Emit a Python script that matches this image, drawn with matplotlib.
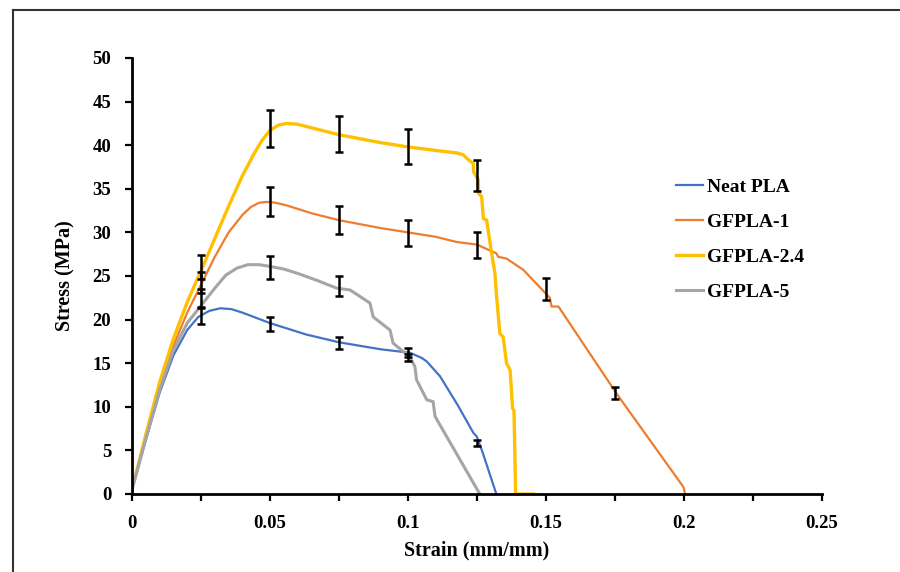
import numpy as np
import matplotlib.pyplot as plt
from matplotlib.lines import Line2D
from matplotlib.ticker import MultipleLocator

# stress-strain curves
neat_strain = [0, 0.005, 0.01, 0.015, 0.02, 0.024, 0.028, 0.032, 0.036, 0.04, 0.045, 0.05,
               0.056, 0.063, 0.075, 0.09, 0.1007, 0.105, 0.1068, 0.1116, 0.118, 0.1237,
               0.1249, 0.127, 0.132]
neat_stress = [0.5, 6.2, 11.6, 15.9, 18.8, 20.3, 21.0, 21.3, 21.2, 20.8, 20.2, 19.6,
               19.0, 18.3, 17.4, 16.6, 16.2, 15.6, 15.2, 13.5, 10.2, 7.0,
               6.6, 4.8, 0]

gf1_strain = [0, 0.005, 0.01, 0.015, 0.02, 0.025, 0.03, 0.035, 0.04, 0.043, 0.046, 0.049,
              0.052, 0.056, 0.06, 0.065, 0.075, 0.09, 0.1, 0.11, 0.1176, 0.125, 0.132,
              0.1327, 0.1357, 0.1418, 0.1514, 0.152, 0.1545, 0.1756, 0.1998, 0.2004]
gf1_stress = [0.5, 6.5, 12.2, 17.0, 20.8, 24.0, 27.2, 30.0, 32.0, 32.9, 33.4, 33.5,
              33.4, 33.1, 32.7, 32.2, 31.4, 30.5, 30.0, 29.5, 28.9, 28.6, 27.6,
              27.2, 27.0, 25.7, 22.5, 21.5, 21.5, 11.5, 0.8, 0]

gf24_strain = [0, 0.005, 0.01, 0.015, 0.02, 0.025, 0.03, 0.035, 0.04, 0.044, 0.047, 0.05,
               0.053, 0.056, 0.06, 0.065, 0.075, 0.09, 0.1, 0.11, 0.118, 0.12, 0.122,
               0.1237, 0.1237, 0.1255, 0.1255, 0.1267, 0.1273, 0.1285, 0.1303, 0.1315,
               0.132, 0.1333, 0.1345, 0.1357, 0.137, 0.1379, 0.1384, 0.139, 0.1454]
gf24_stress = [0.5, 6.8, 12.8, 17.8, 22.0, 25.6, 29.3, 33.0, 36.5, 38.9, 40.5, 41.7,
               42.3, 42.5, 42.4, 42.0, 41.2, 40.3, 39.8, 39.4, 39.1, 38.9, 38.3,
               37.9, 37.0, 36.0, 34.5, 34.1, 31.6, 31.4, 27.6, 25.3,
               23.0, 18.4, 18.0, 15.0, 14.2, 9.8, 9.6, 0, 0]

gf5_strain = [0, 0.005, 0.01, 0.015, 0.02, 0.025, 0.03, 0.034, 0.038, 0.042, 0.046, 0.05,
              0.055, 0.06, 0.067, 0.0742, 0.079, 0.0862, 0.0874, 0.0935, 0.0946, 0.1007,
              0.1025, 0.1031, 0.1068, 0.1091, 0.1098, 0.126]
gf5_stress = [0.5, 6.3, 11.9, 16.5, 19.6, 21.6, 23.6, 25.1, 25.9, 26.3, 26.3, 26.1,
              25.8, 25.3, 24.5, 23.6, 23.4, 21.9, 20.3, 18.8, 17.3, 15.7,
              14.6, 13.1, 10.8, 10.6, 8.9, 0]

# error bars (mean, +/-)
neat_eb_x = [0.025, 0.05, 0.075, 0.1, 0.125]
neat_eb_y = [20.4, 19.5, 17.35, 16.2, 5.8]
neat_eb_e = [0.9, 0.8, 0.7, 0.5, 0.35]

gf1_eb_x = [0.025, 0.05, 0.075, 0.1, 0.125, 0.15, 0.175]
gf1_eb_y = [24.3, 33.5, 31.4, 29.9, 28.6, 23.5, 11.6]
gf1_eb_e = [1.2, 1.65, 1.6, 1.5, 1.5, 1.25, 0.7]

gf24_eb_x = [0.025, 0.05, 0.075, 0.1, 0.125]
gf24_eb_y = [26.0, 41.9, 41.3, 39.9, 36.5]
gf24_eb_e = [1.4, 2.1, 2.1, 2.0, 1.8]

gf5_eb_x = [0.025, 0.05, 0.075, 0.1]
gf5_eb_y = [22.5, 26.0, 23.8, 15.6]
gf5_eb_e = [1.0, 1.3, 1.15, 0.4]

labels = ['Neat PLA', 'GFPLA-1', 'GFPLA-2.4', 'GFPLA-5']
colors = ['#4472C4', '#ED7D31', '#FFC000', '#A5A5A5']
widths = [1.6, 1.6, 2.4, 2.2]

plt.rcParams['font.family'] = ['Liberation Serif', 'DejaVu Serif']
plt.rcParams['font.weight'] = 'bold'

fig = plt.figure(figsize=(9, 5.72), dpi=100)
ax = fig.add_axes([132 / 900, 78 / 572, 690 / 900, 436 / 572])

curves = [(neat_strain, neat_stress), (gf1_strain, gf1_stress),
          (gf24_strain, gf24_stress), (gf5_strain, gf5_stress)]
for (x, y), lab, c, w in zip(curves, labels, colors, widths):
    ax.plot(x, y, color=c, lw=w, label=lab, zorder=2, solid_joinstyle='round')

bars = [(neat_eb_x, neat_eb_y, neat_eb_e), (gf1_eb_x, gf1_eb_y, gf1_eb_e),
        (gf24_eb_x, gf24_eb_y, gf24_eb_e), (gf5_eb_x, gf5_eb_y, gf5_eb_e)]
for x, y, e in bars:
    ax.errorbar(x, y, yerr=e, fmt='none', ecolor='black', elinewidth=1.8,
                capsize=3, capthick=1.8, zorder=3)

ax.set_xlim(0, 0.25)
ax.set_ylim(0, 50)
ax.xaxis.set_minor_locator(MultipleLocator(0.025))
ax.yaxis.set_major_locator(MultipleLocator(5))
ax.set_xticks([0, 0.05, 0.1, 0.15, 0.2, 0.25])
ax.set_xticklabels(['0', '0.05', '0.1', '0.15', '0.2', '0.25'])

for s in ['top', 'right']:
    ax.spines[s].set_visible(False)
for s in ['left', 'bottom']:
    ax.spines[s].set_linewidth(2)
    ax.spines[s].set_color('black')
ax.tick_params(axis='both', which='both', direction='out', length=5, width=1.6,
               labelsize=13.5, pad=10)

ax.set_xlabel('Strain (mm/mm)', fontsize=14.5, fontweight='bold', labelpad=6)
ax.set_ylabel('Stress (MPa)', fontsize=14.5, fontweight='bold', labelpad=12)

ax.legend(loc='center left', bbox_to_anchor=(0.788, 0.584), frameon=False,
          fontsize=14, handlelength=1.4, handletextpad=0.2, labelspacing=0.9,
          borderaxespad=0, borderpad=0)

# figure border (left and top edges visible)
fig.add_artist(Line2D([13 / 900, 13 / 900], [0, 1 - 10 / 572], color='#333333', lw=1.5,
                      transform=fig.transFigure))
fig.add_artist(Line2D([13 / 900, 1], [1 - 10 / 572, 1 - 10 / 572], color='#333333', lw=1.5,
                      transform=fig.transFigure))

fig.savefig('out.png', dpi=100)
